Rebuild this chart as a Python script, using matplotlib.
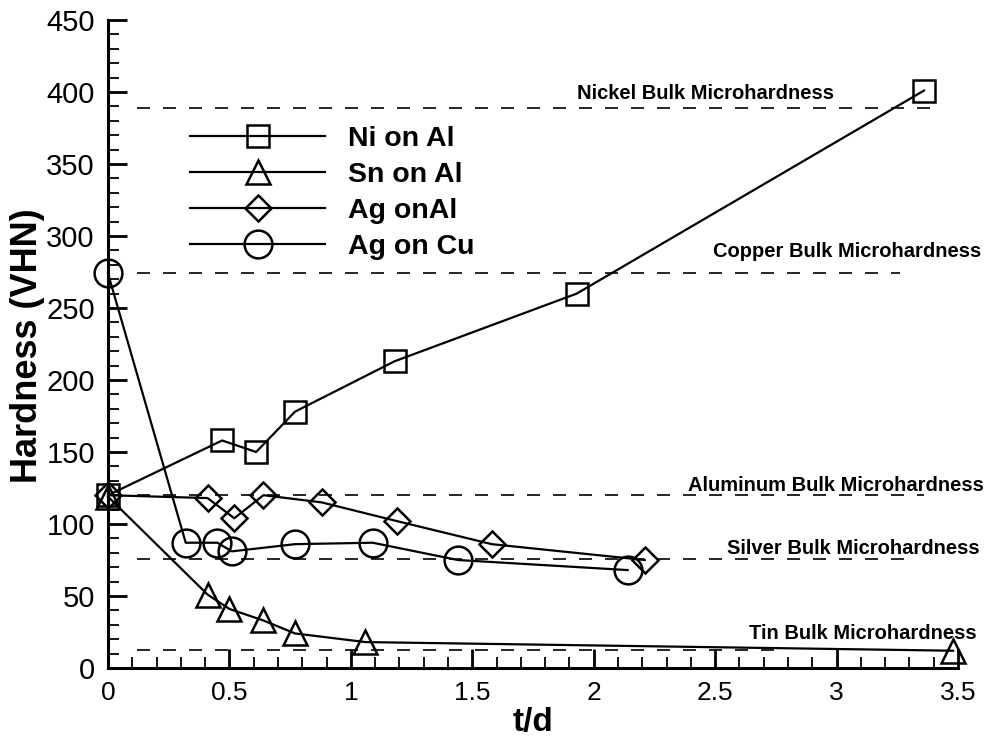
import matplotlib
matplotlib.use("Agg")
import matplotlib.pyplot as plt
from matplotlib.ticker import MultipleLocator, FormatStrFormatter

plt.rcParams["font.family"] = ["Liberation Sans", "DejaVu Sans"]

# data
ni_x = [0.0, 0.47, 0.61, 0.77, 1.18, 1.93, 3.36]
ni_y = [120, 158, 150, 178, 213, 260, 401]

sn_x = [0.0, 0.41, 0.50, 0.64, 0.77, 1.06, 3.48]
sn_y = [119, 51, 41, 33, 24, 18, 12]

agal_x = [0.0, 0.41, 0.52, 0.64, 0.88, 1.19, 1.58, 2.21]
agal_y = [120, 118, 104, 120, 115, 102, 86, 75]

agcu_x = [0.0, 0.32, 0.45, 0.51, 0.77, 1.09, 1.44, 2.14]
agcu_y = [274, 87, 87, 81, 86, 87, 75, 68]

bulk_names = ["Nickel Bulk Microhardness", "Copper Bulk Microhardness",
              "Aluminum Bulk Microhardness", "Silver Bulk Microhardness",
              "Tin Bulk Microhardness"]
bulk_vals = [389, 274, 120, 76, 12.5]
bulk_end = [3.40, 3.26, 3.36, 3.30, 2.78]
bulk_start = 0.12
# where each label sits (x, y) in data units
bulk_lbl_x = [1.93, 2.49, 2.39, 2.55, 2.64]
bulk_lbl_y = [399, 289, 127, 83, 24]

fig = plt.figure(figsize=(9.98, 7.40), dpi=100)
ax = fig.add_axes([108/998, 72/740, 850/998, 648/740])

for v, e in zip(bulk_vals, bulk_end):
    ax.plot([bulk_start, e], [v, v], color="black", lw=1.2, dashes=(7.8, 7.8), clip_on=False)
for name, lx, ly in zip(bulk_names, bulk_lbl_x, bulk_lbl_y):
    ax.text(lx, ly, name, ha="left", va="center", fontsize=14.5, fontweight="bold")

kw = dict(color="black", lw=1.6, mfc="none", mec="black", mew=1.8, clip_on=False)
ax.plot(ni_x, ni_y, marker="s", ms=16, label="Ni on Al", **kw)
ax.plot(sn_x, sn_y, marker="^", ms=17, label="Sn on Al", **kw)
ax.plot(agal_x, agal_y, marker="D", ms=13, label="Ag onAl", **kw)
ax.plot(agcu_x, agcu_y, marker="o", ms=20, label="Ag on Cu", **kw)

ax.set_xlim(0, 3.5)
ax.set_ylim(0, 450)
ax.spines["top"].set_visible(False)
ax.spines["right"].set_visible(False)
ax.spines["left"].set_linewidth(2.2)
ax.spines["bottom"].set_linewidth(2.2)

ax.xaxis.set_major_locator(MultipleLocator(0.5))
ax.xaxis.set_minor_locator(MultipleLocator(0.1))
ax.yaxis.set_major_locator(MultipleLocator(50))
ax.yaxis.set_minor_locator(MultipleLocator(10))
ax.xaxis.set_major_formatter(FormatStrFormatter("%g"))
ax.yaxis.set_major_formatter(FormatStrFormatter("%g"))
ax.tick_params(which="major", direction="in", length=13.5, width=2, pad=9.5)
ax.tick_params(which="minor", direction="in", length=8, width=1.3)
ax.tick_params(axis="x", which="major", labelsize=19)
ax.tick_params(axis="y", which="major", labelsize=21)

fig.text(28/998, 1 - 346/740, "Hardness (VHN)", rotation=90, ha="center", va="center",
         fontsize=26, fontweight="bold")
fig.text(533/998, 1 - 723/740, "t/d", ha="center", va="center", fontsize=24, fontweight="bold")

ax.legend(loc="upper left", bbox_to_anchor=(0.0965, 0.837), frameon=False,
          prop={"weight": "bold", "size": 20.5}, handlelength=4.75,
          handletextpad=0.8, labelspacing=0.36, borderpad=0, borderaxespad=0, numpoints=1)

fig.savefig("out.png", dpi=100)
